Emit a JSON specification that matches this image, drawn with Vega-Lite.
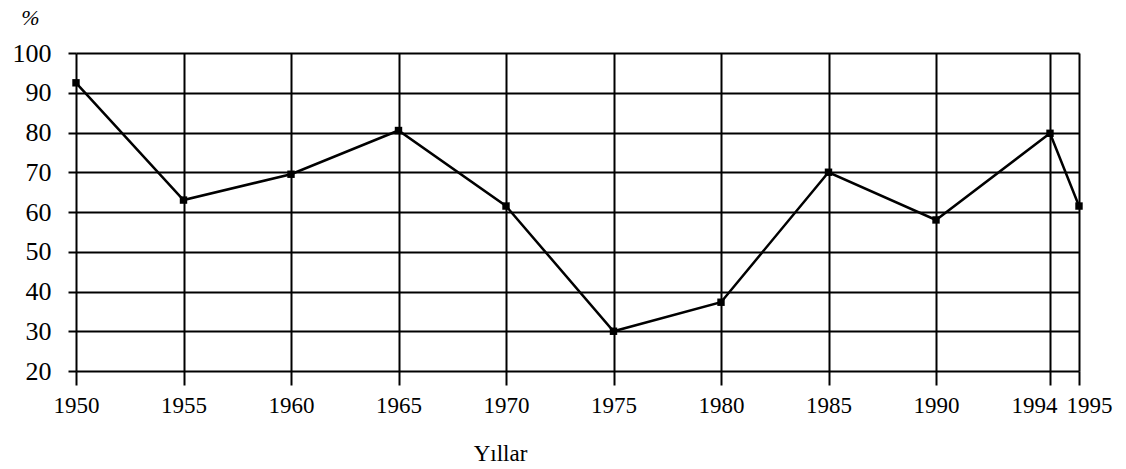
{
  "$schema": "https://vega.github.io/schema/vega-lite/v6.json",
  "autosize": "none",
  "width": 1003,
  "height": 318,
  "padding": {"left": 76, "top": 53, "right": 47, "bottom": 98},
  "background": "white",
  "config": {"view": {"stroke": null}, "font": "Liberation Serif"},
  "data": {"values": [
    {"year": 1950, "pct": 92.5},
    {"year": 1955, "pct": 63},
    {"year": 1960, "pct": 69.5},
    {"year": 1965, "pct": 80.5},
    {"year": 1970, "pct": 61.5},
    {"year": 1975, "pct": 30},
    {"year": 1980, "pct": 37.3},
    {"year": 1985, "pct": 70},
    {"year": 1990, "pct": 58},
    {"year": 1994, "pct": 79.8},
    {"year": 1995, "pct": 61.5}
  ]},
  "encoding": {
    "x": {
      "field": "year", "type": "quantitative",
      "scale": {"domain": [1950, 1990, 1994, 1995], "range": [0, 860, 974, 1003], "nice": false, "zero": false},
      "axis": {
        "values": [1950, 1955, 1960, 1965, 1970, 1975, 1980, 1985, 1990, 1994, 1995],
        "format": "d",
        "title": "Yıllar",
        "titleFont": "Liberation Serif", "titleFontSize": 23, "titleFontWeight": "normal", "titleColor": "black",
        "titleX": 424, "titleY": 82, "titleAlign": "center", "titleBaseline": "middle",
        "labelFont": "Liberation Serif", "labelFontSize": 23, "labelColor": "black", "labelPadding": 9,
        "labelOffset": {"condition": [{"test": "datum.value == 1994", "value": -16}, {"test": "datum.value == 1995", "value": 10}], "value": 0},
        "labelOverlap": false, "labelFlush": false,
        "domain": false, "grid": true, "gridColor": "black", "gridWidth": 2, "gridOpacity": 1,
        "ticks": true, "tickColor": "black", "tickWidth": 2, "tickSize": 14
      }
    },
    "y": {
      "field": "pct", "type": "quantitative",
      "scale": {"domain": [20, 100], "nice": false, "zero": false},
      "axis": {
        "values": [20, 30, 40, 50, 60, 70, 80, 90, 100],
        "title": "%",
        "titleFont": "Liberation Serif", "titleFontSize": 22, "titleFontStyle": "italic", "titleFontWeight": "normal", "titleColor": "black",
        "titleAngle": 0, "titleX": -46, "titleY": -36, "titleAlign": "center", "titleBaseline": "middle",
        "labelFont": "Liberation Serif", "labelFontSize": 26, "labelColor": "black", "labelPadding": 17,
        "domain": false, "grid": true, "gridColor": "black", "gridWidth": 2, "gridOpacity": 1,
        "ticks": true, "tickColor": "black", "tickWidth": 2, "tickSize": 8
      }
    }
  },
  "layer": [
    {"mark": {"type": "line", "color": "black", "strokeWidth": 2.5}},
    {"mark": {"type": "point", "shape": "square", "filled": true, "color": "black", "size": 55, "opacity": 1}}
  ]
}
